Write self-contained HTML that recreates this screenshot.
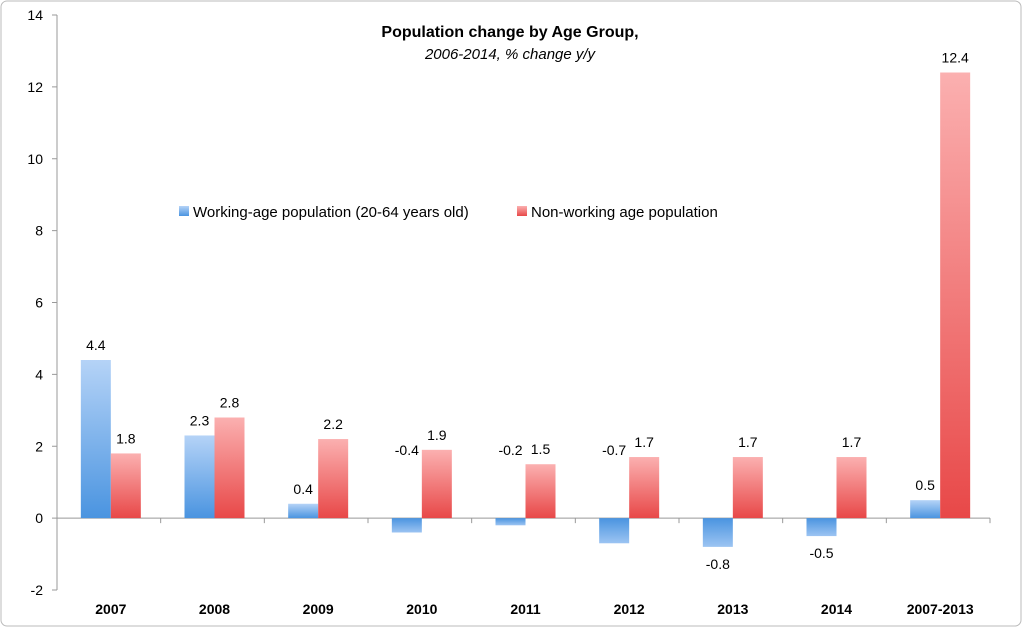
<!DOCTYPE html>
<html><head><meta charset="utf-8"><style>
body{margin:0;background:#fff;}
svg{display:block;font-family:"Liberation Sans",sans-serif;}
</style></head><body>
<svg id="chart" width="1022" height="627" viewBox="0 0 1022 627">
<defs>
<linearGradient id="gb" x1="0" y1="0" x2="0" y2="1"><stop offset="0" stop-color="#b5d3f7"/><stop offset="1" stop-color="#4a94e0"/></linearGradient>
<linearGradient id="gr" x1="0" y1="0" x2="0" y2="1"><stop offset="0" stop-color="#fbb0b0"/><stop offset="1" stop-color="#e84848"/></linearGradient>
<linearGradient id="gbn" x1="0" y1="0" x2="0" y2="1"><stop offset="0" stop-color="#4a94e0"/><stop offset="1" stop-color="#9cc4f2"/></linearGradient>
</defs>
<rect x="1" y="1" width="1020" height="625" rx="6" fill="#fff" stroke="#bbb"/>
<g id="axes"></g>
<g id="bars"></g>
<text x="510" y="37" text-anchor="middle" font-weight="bold" font-size="16">Population change by Age Group,</text>
<text x="510" y="59" text-anchor="middle" font-style="italic" font-size="15">2006-2014, % change y/y</text>
<g>
<rect x="179" y="206" width="10" height="10" fill="url(#gb)"/>
<text x="193" y="217" font-size="15">Working-age population (20-64 years old)</text>
<rect x="517" y="206" width="10" height="10" fill="url(#gr)"/>
<text x="531" y="217" font-size="15">Non-working age population</text>
</g>
</svg>
<script>
const categories=["2007","2008","2009","2010","2011","2012","2013","2014","2007-2013"];
const working=[4.4,2.3,0.4,-0.4,-0.2,-0.7,-0.8,-0.5,0.5];
const nonWorking=[1.8,2.8,2.2,1.9,1.5,1.7,1.7,1.7,12.4];
const yTicks=[-2,0,2,4,6,8,10,12,14];
const labelAboveZero=[3,4,5];
const NS="http://www.w3.org/2000/svg";
const x0=57,x1=990,yTop=15,yBot=590,yMin=-2,yMax=14;
const y=v=>yBot-(v-yMin)/(yMax-yMin)*(yBot-yTop);
const bw=(x1-x0)/categories.length;
const cx=i=>x0+bw*(i+0.5)+2;
function mk(t,a,p){const e=document.createElementNS(NS,t);for(const k in a)e.setAttribute(k,a[k]);p.appendChild(e);return e;}
const ax=document.getElementById('axes'),bars=document.getElementById('bars');
const yl=mk('line',{x1:x0,x2:x0,y1:yTop,y2:yBot,stroke:'#999'},ax);


yTicks.forEach(t=>{
 const tk=mk('line',{x1:x0-5,x2:x0,y1:y(t),y2:y(t),stroke:'#999'},ax);
 
 
 const tx=mk('text',{x:x0-14,y:y(t)+5,'text-anchor':'end','font-size':14},ax);tx.textContent=t;
 
 
});
const xl=mk('line',{x1:x0,x2:x1,y1:y(0),y2:y(0),stroke:'#999'},ax);


categories.forEach((c,i)=>{
 const tk=mk('line',{x1:x0+bw*(i+1),x2:x0+bw*(i+1),y1:y(0),y2:y(0)+5,stroke:'#999'},ax);
 
 
 const tx=mk('text',{x:cx(i),y:614,'text-anchor':'middle','font-size':14,'font-weight':'bold'},ax);tx.textContent=c;
 
 
 [[working[i],-30,'url(#gb)','url(#gbn)','bar-working'],[nonWorking[i],0,'url(#gr)','url(#gr)','bar-nonworking']].forEach(([v,off,f,fn,nm])=>{
  const top=Math.min(y(v),y(0)),h=Math.abs(y(v)-y(0));
  const r=mk('rect',{x:cx(i)+off,y:top,width:30,height:h,fill:v<0?fn:f},bars);
  
  
  let ly=v>=0?y(v)-10:y(v)+22;
  if(v<0&&labelAboveZero.includes(i))ly=y(0)-10-y(nonWorking[i])+y(nonWorking[i]);
  if(v<0&&labelAboveZero.includes(i))ly=455;
  const lt=mk('text',{x:cx(i)+off+15,y:ly,'text-anchor':'middle','font-size':14},bars);lt.textContent=v.toFixed(1);
  
  
 });
});
</script>
</body></html>
